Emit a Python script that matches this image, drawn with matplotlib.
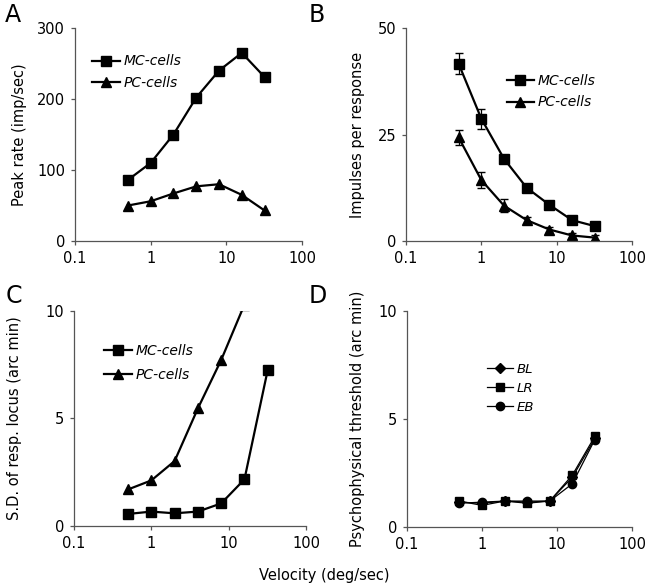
import matplotlib
matplotlib.use('Agg')
import matplotlib.pyplot as plt

plt.rcParams['font.family'] = ['DejaVu Sans']

velocity = [0.5, 1, 2, 4, 8, 16, 32]

# A: peak rate (imp/sec)
peak_mc = [86, 110, 150, 202, 240, 265, 231]
peak_pc = [50, 56, 67, 77, 80, 65, 43]

# B: impulses per response, with error bars
imp_mc = [41.6, 28.7, 19.3, 12.5, 8.5, 4.9, 3.5]
imp_mc_err = [2.5, 2.3, 1.0, 0.7, 0.6, 0.6, 0.5]
imp_pc = [24.3, 14.3, 8.3, 4.9, 2.7, 1.3, 0.8]
imp_pc_err = [1.8, 1.8, 1.5, 0.8, 0.7, 0.6, 0.5]

# C: S.D. of response locus (arc min)
sd_mc = [0.56, 0.67, 0.59, 0.67, 1.05, 2.17, 7.26]
vel_pc_c = [0.5, 1, 2, 4, 8, 16]
sd_pc = [1.7, 2.12, 3.02, 5.47, 7.72, 10.3]

# D: psychophysical threshold (arc min)
thr_bl = [1.15, 1.1, 1.2, 1.15, 1.2, 2.3, 4.1]
thr_lr = [1.2, 1.0, 1.2, 1.1, 1.2, 2.4, 4.2]
thr_eb = [1.1, 1.15, 1.2, 1.2, 1.2, 2.0, 4.05]

xticks = [0.1, 1, 10, 100]
xticklabels = ['0.1', '1', '10', '100']

fig = plt.figure(figsize=(6.49, 5.86), dpi=100)
axA = fig.add_axes([0.1156, 0.5887, 0.3497, 0.3635])
axB = fig.add_axes([0.6256, 0.5887, 0.3482, 0.3635])
axC = fig.add_axes([0.1140, 0.1024, 0.3575, 0.3669])
axD = fig.add_axes([0.6271, 0.1007, 0.3467, 0.3686])

lab_size = 10.5
leg_kw = dict(frameon=False, handlelength=2.0, handletextpad=0.25,
              borderpad=0, borderaxespad=0)


def style(ax, yticks, ylabel, labx):
    ax.set_xscale('log')
    ax.set_xlim(0.1, 100)
    ax.set_xticks(xticks)
    ax.set_xticklabels(xticklabels)
    ax.minorticks_off()
    ax.set_yticks(yticks)
    ax.set_ylim(yticks[0], yticks[-1])
    for s in ['top', 'right']:
        ax.spines[s].set_visible(False)
    for s in ['left', 'bottom']:
        ax.spines[s].set_color('#555555')
        ax.spines[s].set_linewidth(0.9)
    ax.tick_params(length=3, width=0.9, color='#555555', labelsize=10.5, pad=4)
    ax.set_ylabel(ylabel, fontsize=lab_size)
    ax.yaxis.set_label_coords(labx, 0.5)


lw = 1.6
ms = 7

axA.plot(velocity, peak_mc, '-s', color='black', lw=lw, ms=ms, label='MC-cells')
axA.plot(velocity, peak_pc, '-^', color='black', lw=lw, ms=ms, label='PC-cells')
style(axA, [0, 100, 200, 300], 'Peak rate (imp/sec)', -0.211)
axA.legend(loc='upper left', bbox_to_anchor=(0.075, 0.876),
           prop={'style': 'italic', 'size': 10}, labelspacing=0.55, **leg_kw)

axB.plot(velocity, imp_mc, '-s', color='black', lw=lw, ms=ms, label='MC-cells')
axB.plot(velocity, imp_pc, '-^', color='black', lw=lw, ms=ms, label='PC-cells')
axB.errorbar(velocity, imp_mc, yerr=imp_mc_err, fmt='none', ecolor='black',
             capsize=3, elinewidth=0.9)
axB.errorbar(velocity, imp_pc, yerr=imp_pc_err, fmt='none', ecolor='black',
             capsize=3, elinewidth=0.9)
style(axB, [0, 25, 50], 'Impulses per response', -0.181)
axB.legend(loc='upper left', bbox_to_anchor=(0.445, 0.785),
           prop={'style': 'italic', 'size': 10}, labelspacing=0.55, **leg_kw)

axC.plot(velocity, sd_mc, '-s', color='black', lw=lw, ms=ms, label='MC-cells')
axC.plot(vel_pc_c, sd_pc, '-^', color='black', lw=lw, ms=ms, label='PC-cells')
style(axC, [0, 5, 10], 'S.D. of resp. locus (arc min)', -0.224)
axC.legend(loc='upper left', bbox_to_anchor=(0.13, 0.846),
           prop={'style': 'italic', 'size': 10}, labelspacing=0.7, **leg_kw)

axD.plot(velocity, thr_bl, '-D', color='black', lw=0.9, ms=5.5, label='BL')
axD.plot(velocity, thr_lr, '-s', color='black', lw=0.9, ms=6, label='LR')
axD.plot(velocity, thr_eb, '-o', color='black', lw=0.9, ms=6, label='EB')
style(axD, [0, 5, 10], 'Psychophysical threshold (arc min)', -0.187)
axD.legend(loc='upper left', bbox_to_anchor=(0.355, 0.76),
           prop={'style': 'italic', 'size': 9.5}, labelspacing=0.45, **leg_kw)

for lab, (x, y) in zip('ABCD', [(0.008, 0.975), (0.476, 0.975),
                                (0.008, 0.495), (0.476, 0.495)]):
    fig.text(x, y, lab, fontsize=17, va='center', ha='left')

fig.text(0.5, 0.018, 'Velocity (deg/sec)', fontsize=lab_size, ha='center', va='center')

fig.savefig('out.png', dpi=100)
